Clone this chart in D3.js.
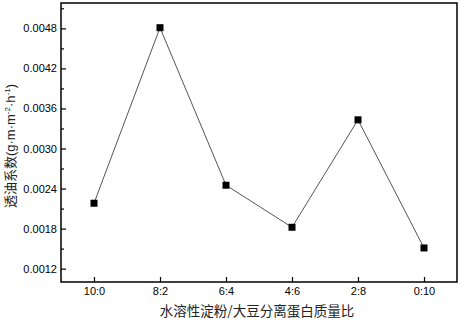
<!DOCTYPE html>
<html><head><meta charset="utf-8">
<script src="https://cdn.jsdelivr.net/npm/d3@7"></script>
<style>body{margin:0;background:#fff}</style>
</head><body>
<svg id="c" width="461" height="320"></svg>
<script>
const categories = ["10:0","8:2","6:4","4:6","2:8","0:10"];
const values = [0.00218,0.00481,0.00245,0.00182,0.00343,0.00151];
const yTicks = [0.0012,0.0018,0.0024,0.0030,0.0036,0.0042,0.0048];
const yMinorTicks = [0.0015,0.0021,0.0027,0.0033,0.0039,0.0045,0.0051];
const xTitle = "水溶性淀粉/大豆分离蛋白质量比";

const svg = d3.select("#c");
const L=61,T=3,R=457,B=282;
const x = d3.scalePoint().domain(categories).range([L,R]).padding(0.5);
const y = d3.scaleLinear().domain([0.001,0.00518]).range([B,T]);

const gy = svg.append("g").attr("transform",`translate(${L},0)`)
  .call(d3.axisLeft(y).tickValues(yTicks).tickFormat(d3.format(".4f")).tickSizeInner(-5).tickSizeOuter(0).tickPadding(4));
const gym = svg.append("g").attr("transform",`translate(${L},0)`)
  .call(d3.axisLeft(y).tickValues(yMinorTicks).tickFormat("").tickSizeInner(-3).tickSizeOuter(0));
const gx = svg.append("g").attr("transform",`translate(0,${B})`)
  .call(d3.axisBottom(x).tickSizeInner(-5).tickSizeOuter(0).tickPadding(5));
[gy,gym,gx].forEach(g=>{
  g.select(".domain").remove();
  g.selectAll("line").attr("stroke","#000").attr("stroke-width",1.2);
  g.selectAll("text").attr("font-family","'Liberation Sans',Arial,sans-serif").attr("font-size",11).attr("fill","#000");
});

svg.append("rect").attr("x",L).attr("y",T).attr("width",R-L).attr("height",B-T)
  .attr("fill","none").attr("stroke","#000").attr("stroke-width",1.5);

const line = d3.line().x((d,i)=>x(categories[i])).y(d=>y(d));
svg.append("path").datum(values).attr("d",line).attr("fill","none").attr("stroke","#555").attr("stroke-width",1);
svg.selectAll("rect.m").data(values).enter().append("rect").attr("class","m")
  .attr("x",(d,i)=>x(categories[i])-3.5).attr("y",d=>y(d)-3.5).attr("width",7).attr("height",7).attr("fill","#000");

svg.append("text").attr("x",(L+R)/2 - 2).attr("y",316).attr("text-anchor","middle")
  .attr("font-family","'Noto Sans CJK SC',sans-serif").attr("font-size",13.5).attr("fill","#222").text(xTitle);
const yt = svg.append("text").attr("transform",`translate(15,146) rotate(-90)`).attr("text-anchor","middle")
  .attr("font-family","'Liberation Sans',Arial,sans-serif").attr("font-size",13).attr("fill","#222");
yt.append("tspan").attr("font-family","'Noto Sans CJK SC',sans-serif").text("透油系数");
yt.append("tspan").text("(g·m·m");
yt.append("tspan").attr("dy",-5).attr("font-size",8).text("-2");
yt.append("tspan").attr("dy",5).text("·h");
yt.append("tspan").attr("dy",-5).attr("font-size",8).text("-1");
yt.append("tspan").attr("dy",5).text(")");
</script>
</body></html>
